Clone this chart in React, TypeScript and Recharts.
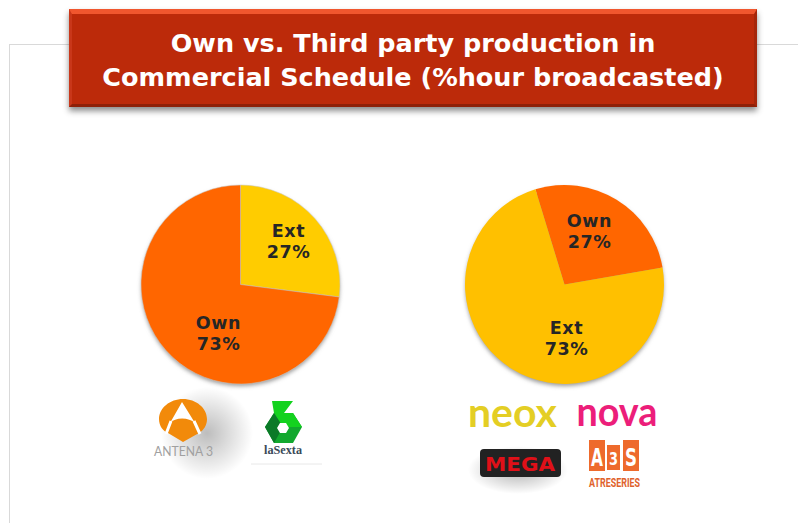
import { PieChart, Pie, Cell } from 'recharts';

const leftNames = ['Ext', 'Own'];
const leftValues = [27, 73];
const leftColors = ['#FFCC00', '#FF6600'];
const rightNames = ['Own', 'Ext'];
const rightValues = [27, 73];
const rightColors = ['#FF6600', '#FFC000'];
const titleLines = ['Own vs. Third party production in', 'Commercial Schedule (%hour broadcasted)'];
const a3sLetters = ['A', '3', 'S'];

// label placement relative to the pie centre (first baseline)
const leftLabelOffsets = [[48, -48], [-22, 44]];
const rightLabelOffsets = [[25, -58], [2, 49]];

const toRows = (names: string[], values: number[]) => names.map((name, i) => ({ name, value: values[i] }));

const FONT = '"DejaVu Sans", Verdana, sans-serif';

const sliceLabel = (offsets: number[][]) => (props: any) => {
  const { cx, cy, index, name, value } = props;
  const x = cx + offsets[index][0];
  const y = cy + offsets[index][1];
  return (
    <text x={x} y={y} textAnchor="middle" fontFamily={FONT} fontWeight="bold" fontSize={17.5} letterSpacing={0.6} fill="#262626">
      <tspan x={x}>{name}</tspan>
      <tspan x={x} dy={21}>{value}%</tspan>
    </text>
  );
};

const Header = () => (
  <div
    style={{
      position: 'absolute',
      left: 69,
      top: 9,
      width: 688,
      height: 98,
      boxSizing: 'border-box',
      background: '#BC2A0A',
      borderTop: '5px solid #F0562E',
      borderLeft: '3px solid #C9371A',
      borderRight: '3px solid #A5260A',
      borderBottom: '3px solid #8E2008',
      boxShadow: '0 4px 6px rgba(0,0,0,0.45)',
      color: '#fff',
      fontFamily: FONT,
      fontWeight: 'bold',
      fontSize: 25.5,
      lineHeight: '34px',
      textAlign: 'center',
      paddingTop: 12,
    }}
  >
    {titleLines.map((line) => (
      <div key={line} style={{ whiteSpace: 'nowrap' }}>{line}</div>
    ))}
  </div>
);

const PieShadows = () => (
  <svg width={798} height={523} style={{ position: 'absolute', left: 0, top: 0 }}>
    <defs>
      <filter id="soft"><feGaussianBlur stdDeviation="2" /></filter>
    </defs>
    <circle cx={240.5} cy={287} r={99} fill="#999" filter="url(#soft)" />
    <circle cx={564.5} cy={287} r={99} fill="#999" filter="url(#soft)" />
  </svg>
);

// Channel logos, roughly redrawn
const Logos = () => (
  <svg width={798} height={523} style={{ position: 'absolute', left: 0, top: 0 }}>
    <defs>
      <radialGradient id="logoShadow">
        <stop offset="0%" stopColor="#000" stopOpacity={0.26} />
        <stop offset="100%" stopColor="#000" stopOpacity={0} />
      </radialGradient>
      <radialGradient id="megaShadow">
        <stop offset="0%" stopColor="#000" stopOpacity={0.3} />
        <stop offset="100%" stopColor="#000" stopOpacity={0} />
      </radialGradient>
    </defs>
    <ellipse cx={207} cy={433} rx={46} ry={46} fill="url(#logoShadow)" />
    <path d="M183 399 C170 399 159 408 159 419 C159 426 163 431 168 433 L183 442 L199 433 C204 430 207 425 207 419 C207 408 196 399 183 399 Z" fill="#F28A0A" />
    <path d="M182 402 L170 423 C175 417 189 417 195 423 Z" fill="#fff" />
    <path d="M171 421 L166 434 M194 421 L200 434" stroke="#fff" strokeWidth={3} fill="none" />
    <text x={183.5} y={456} textAnchor="middle" fontFamily="Lato" fontSize={14} fill="#A0A0A0" textLength={59} lengthAdjust="spacingAndGlyphs">ANTENA 3</text>

    <polygon points="265,427 274,413 293,413 302,427 293,443 274,443" fill="#12A82E" />
    <polygon points="272,401 293,401 284,413 293,413 302,427 283,427 274,413" fill="#14D21F" />
    <polygon points="265,427 274,413 283,427 274,443" fill="#0B7A28" />
    <polygon points="277,428 280,423 286,423 289,428 286,433 280,433" fill="#fff" />
    <text x={283} y={454} textAnchor="middle" fontFamily="Liberation Serif" fontWeight="bold" fontSize={12} fill="#3A4A58" textLength={38} lengthAdjust="spacingAndGlyphs">laSexta</text>
    <line x1={251} y1={464} x2={322} y2={464} stroke="#E8E8E8" />

    <text x={512.5} y={427} textAnchor="middle" fontFamily="Lato" fontWeight="bold" fontSize={40} fill="#E4CE24" textLength={89} lengthAdjust="spacingAndGlyphs">neox</text>
    <text x={617} y={426} textAnchor="middle" fontFamily="Lato" fontWeight="bold" fontSize={40} fill="#EC1E7A" textLength={81} lengthAdjust="spacingAndGlyphs">nova</text>

    <ellipse cx={518} cy={470} rx={50} ry={24} fill="url(#megaShadow)" />
    <rect x={480} y={449} width={81} height={28} rx={4} fill="#222" />
    <text x={520} y={471} textAnchor="middle" fontFamily={FONT} fontWeight="bold" fontSize={20} fill="#E01018" textLength={70} lengthAdjust="spacingAndGlyphs">MEGA</text>

    {a3sLetters.map((ch, i) => {
      const left = [589, 607, 623][i];
      const width = [16, 13, 16][i];
      const top = i === 1 ? 445 : 440;
      const height = i === 1 ? 25 : 31;
      return (
        <g key={ch}>
          <rect x={left} y={top} width={width} height={height} fill="#EE6A2C" />
          <text x={left + width / 2} y={top + height - 5} textAnchor="middle" fontFamily={FONT} fontWeight="bold" fontSize={i === 1 ? 18 : 24} fill="#fff" textLength={i === 1 ? 9 : 12} lengthAdjust="spacingAndGlyphs">{ch}</text>
        </g>
      );
    })}
    <text x={614.5} y={487} textAnchor="middle" fontFamily="Roboto" fontWeight="bold" fontSize={12} fill="#E0622C" textLength={51} lengthAdjust="spacingAndGlyphs">ATRESERIES</text>
  </svg>
);

export default function App() {
  return (
    <div style={{ position: 'absolute', left: 0, top: 0, width: 798, height: 523, background: '#fff', overflow: 'hidden' }}>
      {/* slide frame behind the header */}
      <div style={{ position: 'absolute', left: 9, top: 44, width: 789, height: 479, borderLeft: '1px solid #D9D9D9', borderTop: '1px solid #D9D9D9', boxSizing: 'border-box' }} />
      <Header />
      <PieShadows />
      <div style={{ position: 'absolute', left: 0, top: 0 }}>
        <PieChart width={798} height={523} margin={{ top: 0, right: 0, bottom: 0, left: 0 }}>
          <Pie
            data={toRows(leftNames, leftValues)}
            dataKey="value"
            nameKey="name"
            cx={240.5}
            cy={284.5}
            outerRadius={99.5}
            startAngle={90}
            endAngle={-270}
            stroke="#C8C8C8"
            strokeWidth={0.5}
            labelLine={false}
            label={sliceLabel(leftLabelOffsets)}
            isAnimationActive={false}
          >
            {leftColors.map((c) => <Cell key={c} fill={c} />)}
          </Pie>
          <Pie
            data={toRows(rightNames, rightValues)}
            dataKey="value"
            nameKey="name"
            cx={564.5}
            cy={284.5}
            outerRadius={99.5}
            startAngle={107}
            endAngle={-253}
            stroke="none"
            labelLine={false}
            label={sliceLabel(rightLabelOffsets)}
            isAnimationActive={false}
          >
            {rightColors.map((c) => <Cell key={c} fill={c} />)}
          </Pie>
        </PieChart>
      </div>
      <Logos />
    </div>
  );
}
